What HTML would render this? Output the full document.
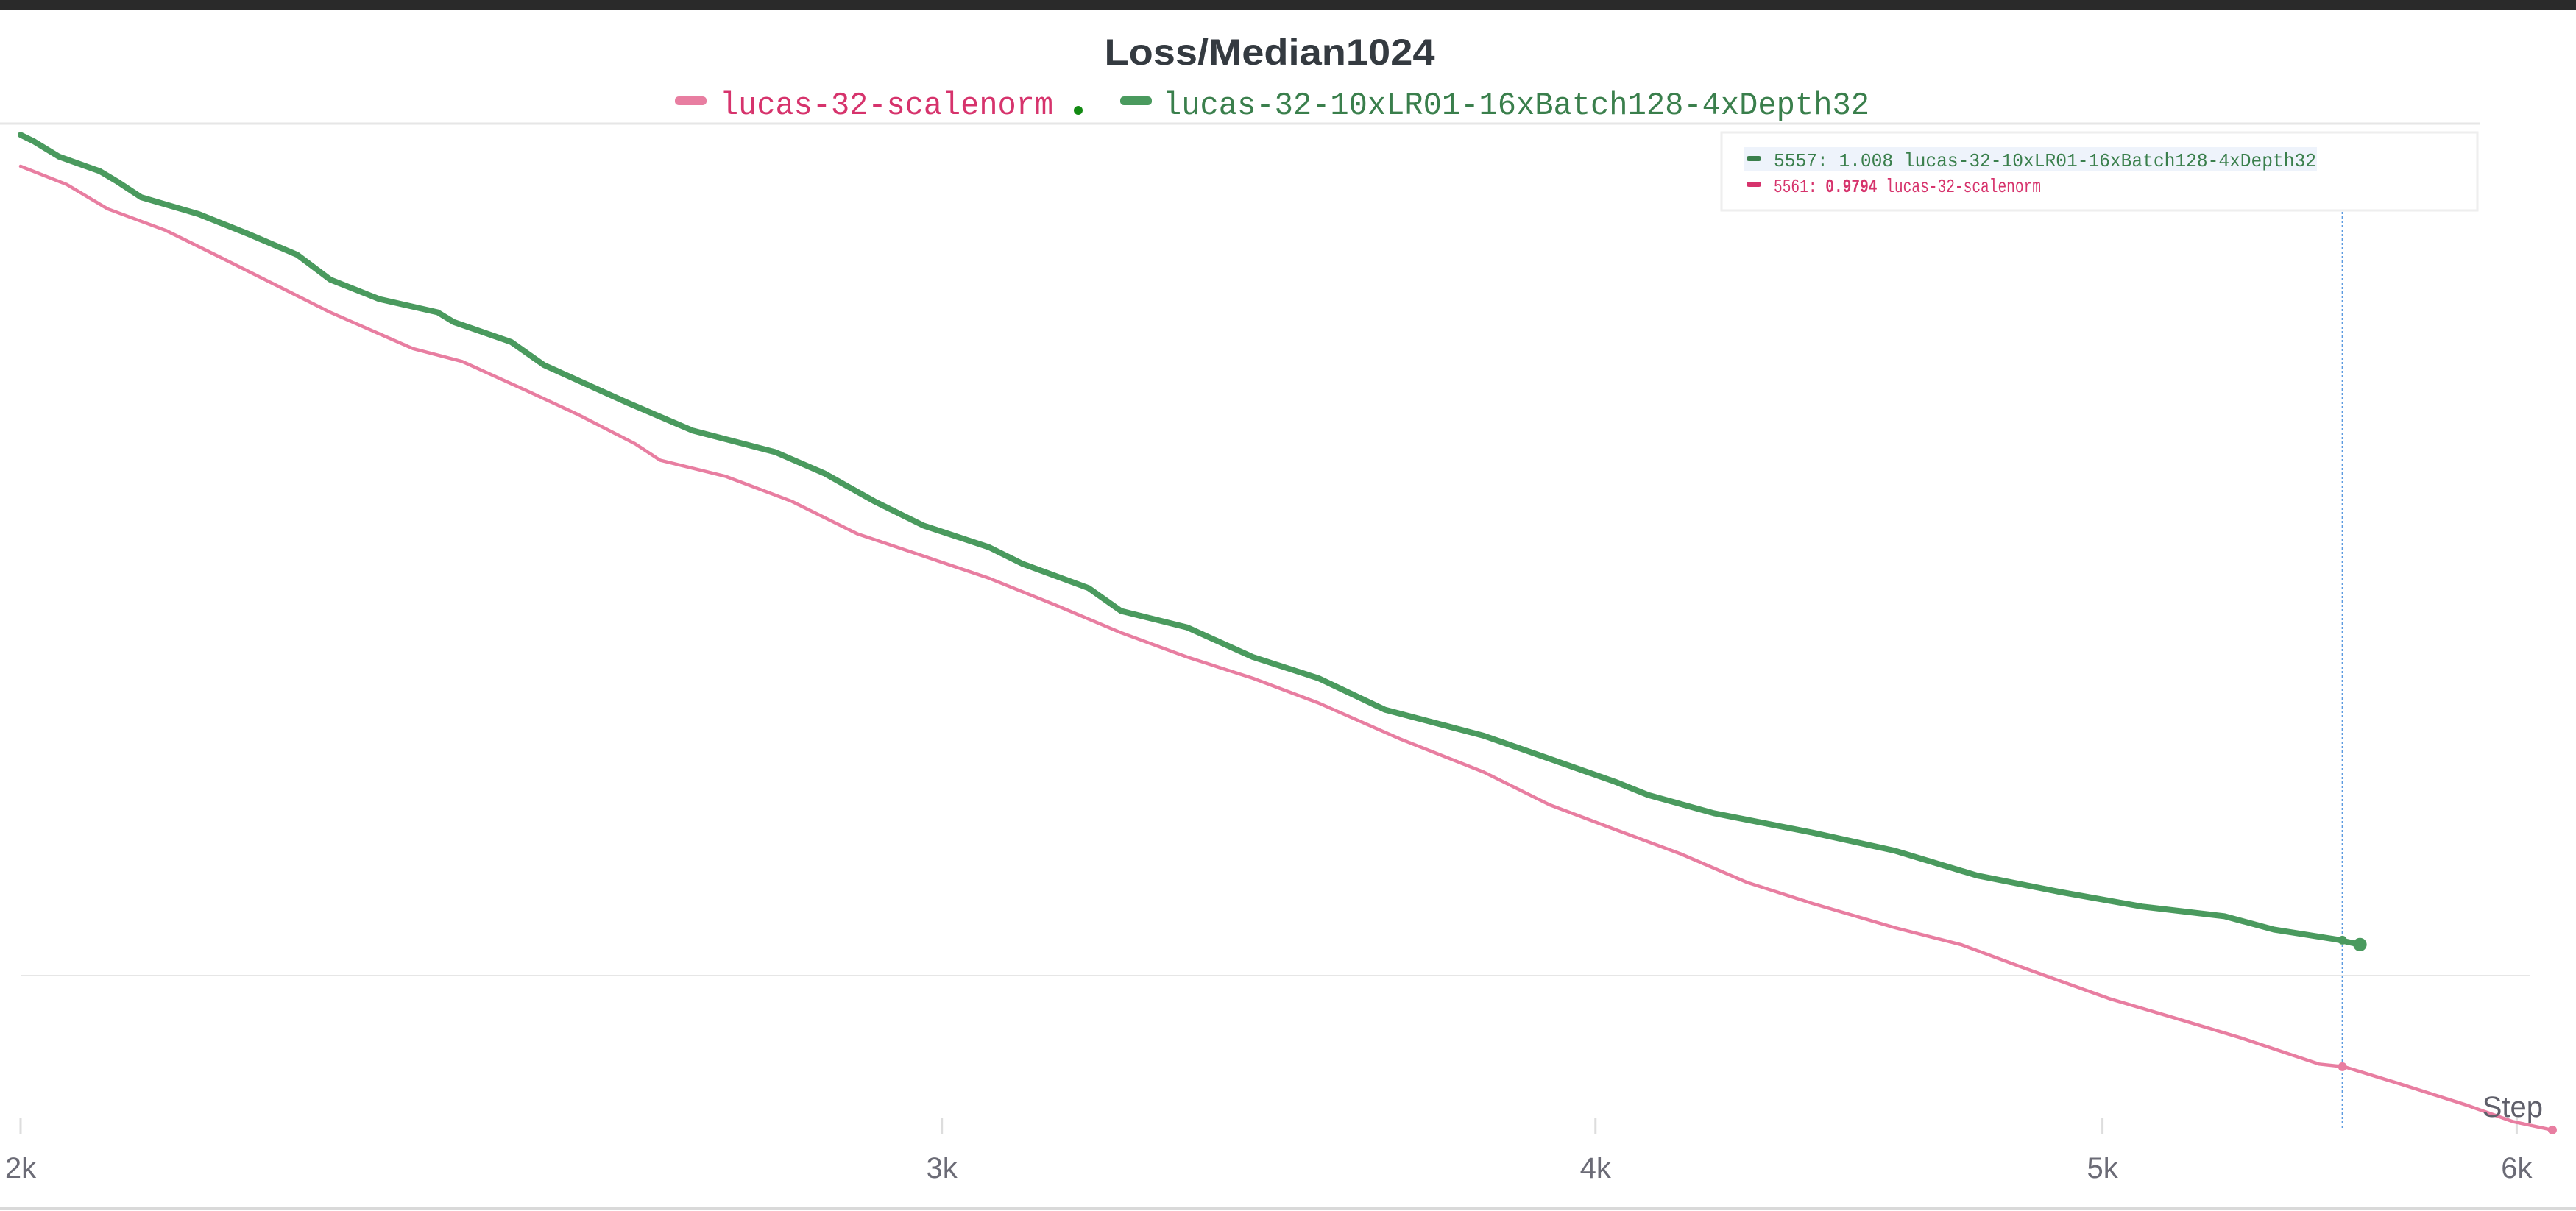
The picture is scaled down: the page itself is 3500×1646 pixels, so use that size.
<!DOCTYPE html>
<html><head><meta charset="utf-8"><style>
html,body{margin:0;padding:0;background:#fff;}
svg{display:block;}
</style></head><body>
<svg id="chart" width="3500" height="1646" viewBox="0 0 3500 1646" xmlns="http://www.w3.org/2000/svg" font-family="Liberation Sans, sans-serif">
  <rect x="0" y="0" width="3500" height="14" fill="#2a2a2a"/>
  <text x="1725" y="88" text-anchor="middle" font-size="50" font-weight="bold" fill="#343a40" textLength="449" lengthAdjust="spacingAndGlyphs">Loss/Median1024</text>
  <g font-family="Liberation Mono, monospace" font-size="44">
    <g>
      <rect x="917" y="131" width="43" height="12" rx="5" fill="#e87ea1"/>
      <text x="978" y="155" fill="#d6336c" textLength="453" lengthAdjust="spacingAndGlyphs">lucas-32-scalenorm</text>
    </g>
    <circle cx="1465" cy="150" r="6" fill="#138a13"/>
    <g>
      <rect x="1522" y="131" width="43" height="12" rx="5" fill="#4a9a5e"/>
      <text x="1580" y="155" fill="#3a7f4c" textLength="960" lengthAdjust="spacingAndGlyphs">lucas-32-10xLR01-16xBatch128-4xDepth32</text>
    </g>
  </g>
  <line x1="0" y1="168" x2="3370" y2="168" stroke="#e6e6e6" stroke-width="3"/>
  <line x1="0" y1="1642" x2="3500" y2="1642" stroke="#d9d9d9" stroke-width="4"/>
  <g id="grid"></g>
  <g id="xaxis"></g>
  <g id="series"></g>
  <text x="3455" y="1518" text-anchor="end" font-size="40" fill="#5f5f6a">Step</text>
  <g>
    <rect x="2339" y="180" width="1027" height="106" fill="#fff" stroke="#eeeeee" stroke-width="3"/>
    <rect x="2370" y="200" width="778" height="33" fill="#eef3fb"/>
    <rect x="2373" y="212" width="20" height="7" rx="3" fill="#3a7f4c"/>
    <text x="2410" y="226" font-family="Liberation Mono, monospace" font-size="26" fill="#3a7f4c" textLength="737" lengthAdjust="spacingAndGlyphs">5557: 1.008 lucas-32-10xLR01-16xBatch128-4xDepth32</text>
    <rect x="2373" y="247" width="20" height="7" rx="3" fill="#d6336c"/>
    <text x="2410" y="261" font-family="Liberation Mono, monospace" font-size="26" fill="#d6336c" textLength="363" lengthAdjust="spacingAndGlyphs">5561: <tspan font-weight="bold">0.9794</tspan> lucas-32-scalenorm</text>
  </g>
</svg>
<script>
const xTicks=[2000,3000,4000,5000,6000];
const xTickLabels=["2k","3k","4k","5k","6k"];
const yGrid=[1.0];
const greenSteps=[2000,2012,2034,2071,2086,2109,2163,2210,2259,2292,2342,2403,2420,2482,2518,2612,2688,2788,2849,2912,2976,3063,3108,3200,3246,3342,3440,3541,3646,3808,3920,4035,4094,4214,4401,4564,4732,4907,5088,5276,5392,5540,5600];
const greenValues=[1.1900,1.1885,1.1851,1.1818,1.1796,1.1759,1.1721,1.1677,1.1629,1.1573,1.1529,1.1499,1.1477,1.1432,1.1380,1.1295,1.1232,1.1183,1.1135,1.1072,1.1017,1.0968,1.0931,1.0876,1.0824,1.0787,1.0720,1.0672,1.0601,1.0542,1.0490,1.0438,1.0408,1.0367,1.0323,1.0282,1.0226,1.0189,1.0156,1.0134,1.0104,1.0082,1.0070];
const pinkSteps=[2000,2041,2078,2132,2179,2227,2292,2377,2429,2500,2555,2621,2650,2728,2808,2891,2954,3063,3153,3246,3342,3440,3541,3672,3808,3920,4035,4153,4275,4401,4564,4698,4836,5015,5162,5315,5500,5561,5700,5870,5990,6095];
const pinkValues=[1.1829,1.1788,1.1733,1.1684,1.1629,1.1573,1.1499,1.1417,1.1388,1.1321,1.1269,1.1202,1.1165,1.1128,1.1072,1.0998,1.0961,1.0898,1.0838,1.0775,1.0720,1.0672,1.0616,1.0534,1.0460,1.0386,1.0330,1.0275,1.0211,1.0163,1.0108,1.0070,1.0015,0.9948,0.9904,0.9859,0.9800,0.9794,0.9755,0.9707,0.9670,0.9651];
const cursorStep=5557;
const cursorGreen=1.008, cursorPink=0.9794;

const NS="http://www.w3.org/2000/svg";
function xs(s){return 28+3087*Math.log(s/2000);}
function ys(v){return 1326-(v-1)*6014;}
function mk(tag,attrs,parent){const e=document.createElementNS(NS,tag);for(const k in attrs)e.setAttribute(k,attrs[k]);parent.appendChild(e);return e;}

const grid=document.getElementById('grid');
yGrid.forEach(v=>{
  const l=mk('line',{x1:28,x2:3437,y1:ys(v),y2:ys(v),stroke:'#e6e6e6','stroke-width':2},grid);
  
  
});
const xa=document.getElementById('xaxis');
xTicks.forEach((t,i)=>{
  const x=xs(t);
  const tk=mk('line',{x1:x,x2:x,y1:1520,y2:1542,stroke:'#dddddd','stroke-width':3},xa);
  
  
  const tx=mk('text',{x:x,y:1601,'text-anchor':'middle','font-size':40,fill:'#6b6b76'},xa);
  
  
  tx.textContent=xTickLabels[i];
});
const ser=document.getElementById('series');
function line(steps,vals,color,w,name){
  const d=steps.map((s,i)=>(i?'L':'M')+xs(s).toFixed(1)+','+ys(vals[i]).toFixed(1)).join(' ');
  const p=mk('path',{d:d,fill:'none',stroke:color,'stroke-width':w,'stroke-linejoin':'round','stroke-linecap':'round'},ser);
  
  
  const n=steps.length-1;
  const c=mk('circle',{cx:xs(steps[n]),cy:ys(vals[n]),r:w*0.9+2,fill:color},ser);
  
  
}
line(pinkSteps,pinkValues,'#e87ea1',4.5,'line-scalenorm');
line(greenSteps,greenValues,'#4a9a5e',8,'line-10xlr');
const cx=xs(cursorStep);
const cl=mk('line',{x1:cx,x2:cx,y1:180,y2:1536,stroke:'#5b9be0','stroke-width':2,'stroke-dasharray':'3,3'},ser);


const c1=mk('circle',{cx:cx,cy:ys(cursorGreen),r:6,fill:'#4a9a5e'},ser);


const c2=mk('circle',{cx:cx,cy:ys(cursorPink),r:6,fill:'#e87ea1'},ser);


</script>
</body></html>
